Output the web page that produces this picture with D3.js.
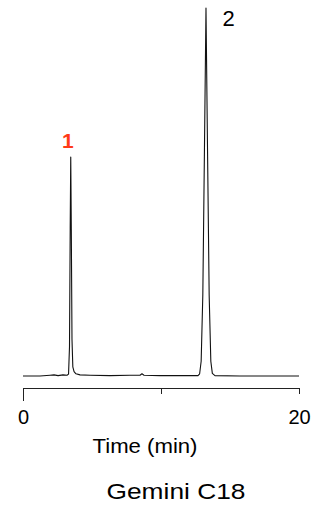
<!DOCTYPE html>
<html>
<head>
<meta charset="utf-8">
<script src="https://cdn.jsdelivr.net/npm/d3@7"></script>
<style>
  html, body { margin: 0; padding: 0; background: #fff; }
  svg { display: block; }
  text { font-family: "Liberation Sans", Arial, Helvetica, sans-serif; }
</style>
</head>
<body>
<svg id="chart" width="325" height="508"></svg>
<script>
// Chromatogram trace: time (min) and detector signal (relative units)
const traceTime = [0, 1.23, 1.96, 2.25, 2.54, 2.90, 3.19, 3.30, 3.37, 3.42, 3.46, 3.50, 3.55, 3.61, 3.70, 3.84, 4.13, 4.86, 6.30, 7.75, 8.48, 8.62, 8.77, 9.93, 11.38, 12.68, 12.80, 12.91, 13.03, 13.15, 13.26, 13.37, 13.49, 13.61, 13.72, 13.91, 15.72, 17.90, 20];
const traceSignal = [0, 0, 0.2, 0.3, 0.1, 0.3, 0.2, 0.5, 8, 40, 59.5, 40, 10, 2.5, 1.2, 0.6, 0.3, 0.2, 0.1, 0.2, 0.2, 0.6, 0.2, 0.1, 0.1, 0.1, 0.6, 4, 22, 62, 100, 62, 22, 4, 0.7, 0.1, 0, 0, 0];

// Peak annotations
const peakLabels = ["1", "2"];
const peakTimes = [3.46, 13.26];
const peakHeights = [59.5, 100];
const peakColors = ["#ff3a17", "#000000"];

// Axis
const xTicks = [0, 10, 20];
const xTickLabels = ["0", "", "20"];
const xTitle = "Time (min)";
const chartTitle = "Gemini C18";

const svg = d3.select("#chart");
const x = d3.scaleLinear().domain([0, 20]).range([23, 299]);
const y = d3.scaleLinear().domain([0, 100]).range([376, 8]);

const data = traceTime.map((t, i) => ({ t, s: traceSignal[i] }));

svg.append("path")
  .datum(data)
  .attr("fill", "none")
  .attr("stroke", "#111")
  .attr("stroke-width", 1.1)
  .attr("stroke-linejoin", "round")
  .attr("d", d3.line().x(d => x(d.t)).y(d => y(d.s)));

// x axis
const axisY = 388;
const axis = d3.axisBottom(x)
  .tickValues(xTicks)
  .tickFormat((d, i) => xTickLabels[i])
  .tickSizeInner(6)
  .tickSizeOuter(0)
  .tickPadding(16);
const gAxis = svg.append("g").attr("transform", `translate(0,${axisY})`).call(axis);
gAxis.select(".domain").attr("stroke", "#222").attr("stroke-width", 1);
gAxis.selectAll(".tick line").attr("stroke", "#222").attr("stroke-width", 1);
gAxis.selectAll(".tick").filter((d, i) => i === 0).select("line").attr("y2", 13);
gAxis.selectAll(".tick text")
  .attr("font-size", 20)
  .attr("fill", "#000")
  .style("font-family", '"Liberation Sans", Arial, sans-serif');

// axis title
svg.append("text")
  .attr("x", 145)
  .attr("y", 452.5)
  .attr("text-anchor", "middle")
  .attr("font-size", 21)
  .attr("textLength", 105)
  .attr("lengthAdjust", "spacingAndGlyphs")
  .text(xTitle);

// chart title
svg.append("text")
  .attr("x", 176)
  .attr("y", 498.5)
  .attr("text-anchor", "middle")
  .attr("font-size", 22)
  .attr("textLength", 139)
  .attr("lengthAdjust", "spacingAndGlyphs")
  .text(chartTitle);

// peak labels
svg.selectAll(".peak-label")
  .data(peakLabels)
  .enter().append("text")
  .attr("class", "peak-label")
  .attr("x", (d, i) => i === 0 ? x(peakTimes[i]) - 3 : x(peakTimes[i]) + 16.5)
  .attr("y", (d, i) => i === 0 ? y(peakHeights[i]) - 9 : y(peakHeights[i]) + 17.5)
  .attr("text-anchor", (d, i) => i === 0 ? "middle" : "start")
  .attr("font-size", (d, i) => i === 0 ? 21 : 22)
  .attr("font-weight", (d, i) => i === 0 ? "bold" : "normal")
  .attr("fill", (d, i) => peakColors[i])
  .text(d => d);
</script>
</body>
</html>
